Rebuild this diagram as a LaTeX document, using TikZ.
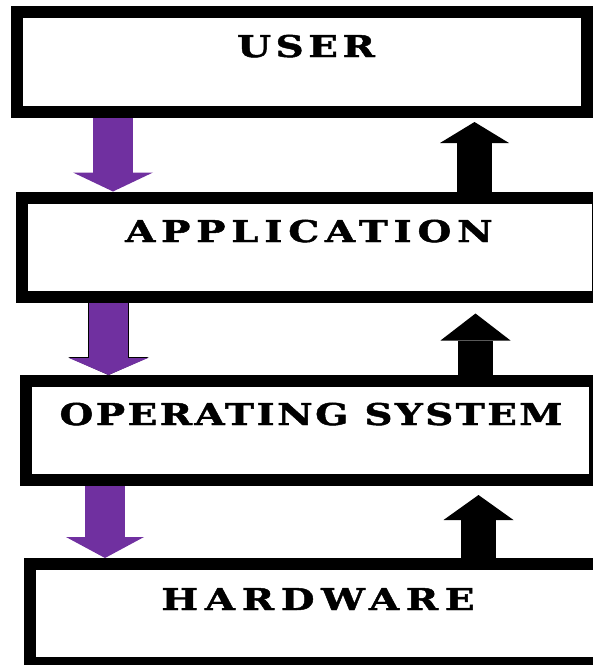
\documentclass[tikz,border=0pt]{standalone}
\usepackage{fontspec}
\newfontfamily\layerfont[LetterSpace=15, FakeStretch=1.3, FakeBold=1.5]{DejaVu Serif}
\usetikzlibrary{arrows.meta, calc}
\definecolor{mPurple}{HTML}{7030A0}

\begin{document}
\begin{tikzpicture}[
  x=1pt, y=-1pt,
  layer/.style={draw, line width=12pt, inner sep=0pt, outer sep=6pt,
                minimum width=570pt, minimum height=100pt},
  lbl/.style={anchor=base, inner sep=0pt,
              font=\layerfont\bfseries\fontsize{30}{30}\selectfont\addfontfeature{LetterSpace=#1}},
  lbl/.default=15,
  down/.style={mPurple, line width=40pt,
               -{Triangle[width=80pt, length=19pt, line width=0pt]}},
  up/.style={black, line width=35pt,
             -{Triangle[width=70pt, length=24pt, line width=0pt]}},
]
  \useasboundingbox (0,0) rectangle (593,665);
  \clip (0,0) rectangle (593,665);

  % Layers
  \node[layer] (user) at (302,62) {};
  \node[layer, minimum width=576pt, minimum height=99pt] (app) at (310,247) {};
  \node[layer, minimum width=569pt, minimum height=99pt] (os) at (310.5,430.5) {};
  \node[layer, minimum height=99pt] (hw) at (315,613.5) {};

  \node[lbl] (userlbl) at (306,57) {USER};
  \node[lbl=19] (applbl) at (309,242) {APPLICATION};
  \node[lbl=8] (oslbl) at (311,425) {OPERATING SYSTEM};
  \node[lbl=22] (hwlbl) at (318,610) {HARDWARE};

  % Requests going down
  \draw[down] (113,0 |- user.south) -- (113,0 |- app.north);
  \draw[down, line width=39pt,
        preaction={draw=black, line width=41pt,
          -{Triangle[width=81pt, length=18pt, line width=0pt]}},
        -{Triangle[width=79pt, length=17pt, line width=0pt]}]
    (108.5,0 |- app.south) -- (108.5,0 |- os.north);
  \draw[down, -{Triangle[width=78pt, length=21pt, line width=0pt]}]
    (105,0 |- os.south) -- (105,0 |- hw.north);

  % Responses going up
  \draw[up, shorten >=4pt, -{Triangle[width=69pt, length=21pt, line width=0pt]}]
    (474.5,0 |- app.north) -- (474.5,0 |- user.south);
  \draw[up, shorten >=11pt, -{Triangle[width=70pt, length=27pt, line width=0pt]}]
    (475.5,0 |- os.north) -- (475.5,0 |- app.south);
  \draw[up, shorten >=9pt, -{Triangle[width=70pt, length=25pt, line width=0pt]}]
    (478.5,0 |- hw.north) -- (478.5,0 |- os.south);
\end{tikzpicture}
\end{document}
